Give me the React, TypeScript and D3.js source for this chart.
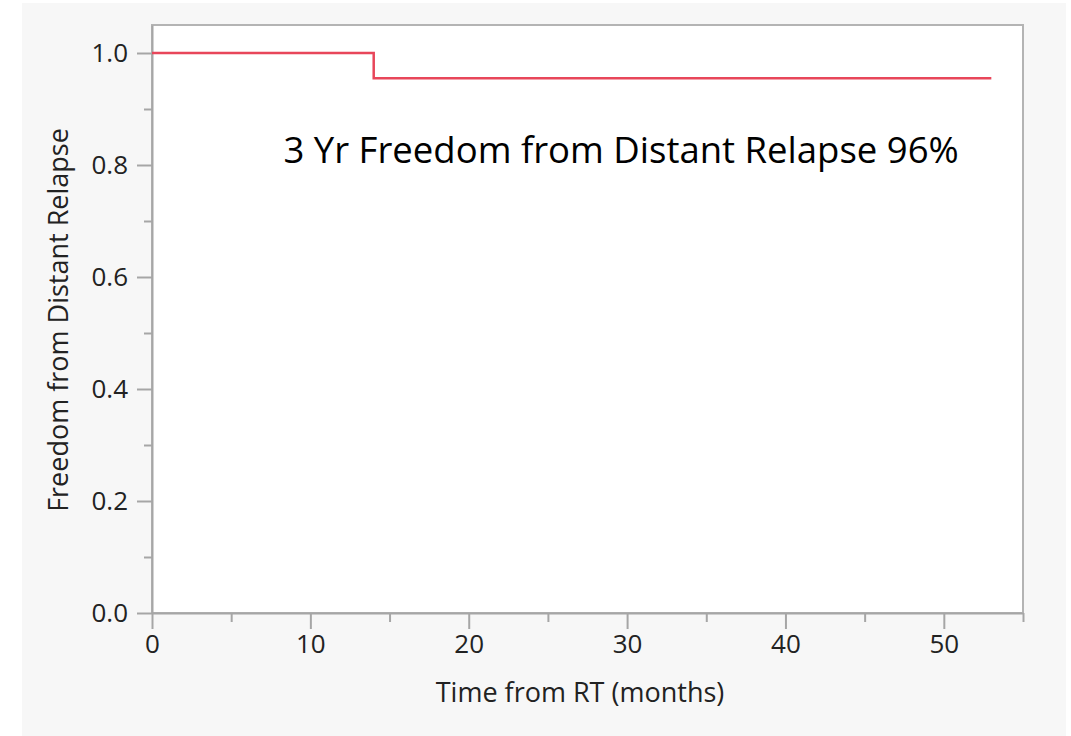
import { useEffect, useRef } from 'react';
import * as d3 from 'd3';

// Kaplan-Meier step points: [time (months), survival]
const timePoints = [0, 14, 53];
const survival = [1.0, 0.955, 0.955];
const xMajorTicks = [0, 10, 20, 30, 40, 50];
const xMinorTicks = [5, 15, 25, 35, 45, 55];
const yMajorTicks = [0, 0.2, 0.4, 0.6, 0.8, 1.0];
const yMinorTicks = [0.1, 0.3, 0.5, 0.7, 0.9];
const annotation = '3 Yr Freedom from Distant Relapse 96%';

export default function App() {
  const ref = useRef<SVGSVGElement | null>(null);

  useEffect(() => {
    if (!ref.current) return;
    const width = 1071;
    const height = 736;
    const margin = { top: 25, right: 48, bottom: 123, left: 152 };
    const innerWidth = width - margin.left - margin.right;
    const innerHeight = height - margin.top - margin.bottom;
    const font = '"Open Sans", "Noto Sans", sans-serif';
    const axisColor = '#a6a6a6';
    const labelSize = 26;

    const root = d3.select(ref.current);
    root.selectAll('*').remove();
    root.attr('width', width).attr('height', height);

    root.append('rect').attr('width', width).attr('height', height).attr('fill', '#ffffff');
    root
      .append('rect')
      .attr('x', 22)
      .attr('y', 3)
      .attr('width', 1044)
      .attr('height', height - 3)
      .attr('fill', '#f7f7f7');

    const svg = root.append('g').attr('transform', `translate(${margin.left},${margin.top})`);

    const x = d3.scaleLinear().domain([0, 55]).range([0, innerWidth]);
    const y = d3.scaleLinear().domain([0, 1.05]).range([innerHeight, 0]);

    svg
      .append('rect')
      .attr('width', innerWidth)
      .attr('height', innerHeight)
      .attr('fill', '#ffffff')
      .attr('stroke', '#b4b4b4')
      .attr('stroke-width', 2);

    // x axis
    const xAxis = svg.append('g').attr('transform', `translate(0,${innerHeight})`);
    xAxis
      .call(d3.axisBottom(x).tickValues(xMajorTicks).tickFormat(d3.format('d')).tickSize(16).tickSizeOuter(0).tickPadding(6))
      .call(g => g.select('.domain').attr('stroke', axisColor).attr('stroke-width', 2));
    xAxis.selectAll('.tick line').attr('stroke', axisColor).attr('stroke-width', 2);
    xAxis
      .selectAll('.tick text')
      .attr('fill', '#222')
      .attr('font-size', labelSize)
      .attr('font-family', font);
    svg
      .append('g')
      .attr('transform', `translate(0,${innerHeight})`)
      .call(d3.axisBottom(x).tickValues(xMinorTicks).tickFormat(() => '').tickSize(9).tickSizeOuter(0))
      .call(g => g.select('.domain').remove())
      .selectAll('.tick line')
      .attr('stroke', axisColor)
      .attr('stroke-width', 2);

    // y axis
    const yAxis = svg.append('g');
    yAxis
      .call(d3.axisLeft(y).tickValues(yMajorTicks).tickFormat(d3.format('.1f')).tickSize(15).tickSizeOuter(0).tickPadding(9))
      .call(g => g.select('.domain').attr('stroke', axisColor).attr('stroke-width', 2));
    yAxis.selectAll('.tick line').attr('stroke', axisColor).attr('stroke-width', 2);
    yAxis
      .selectAll('.tick text')
      .attr('fill', '#222')
      .attr('font-size', labelSize)
      .attr('font-family', font);
    svg
      .append('g')
      .call(d3.axisLeft(y).tickValues(yMinorTicks).tickFormat(() => '').tickSize(8).tickSizeOuter(0))
      .call(g => g.select('.domain').remove())
      .selectAll('.tick line')
      .attr('stroke', axisColor)
      .attr('stroke-width', 2);

    // step curve
    const data = timePoints.map((t, i) => [t, survival[i]] as [number, number]);
    const line = d3
      .line<[number, number]>()
      .x(d => x(d[0]))
      .y(d => y(d[1]))
      .curve(d3.curveStepAfter);
    svg
      .append('path')
      .datum(data)
      .attr('fill', 'none')
      .attr('stroke', '#e8465a')
      .attr('stroke-width', 2.5)
      .attr('d', line);

    // annotation
    svg
      .append('text')
      .attr('x', x(8.3))
      .attr('y', y(0.8) - 2)
      .attr('font-family', font)
      .attr('font-size', 36.5)
      .attr('fill', '#000')
      .text(annotation);

    // axis titles
    root
      .append('text')
      .attr('x', 580)
      .attr('y', 702)
      .attr('text-anchor', 'middle')
      .attr('font-family', font)
      .attr('font-size', 27)
      .attr('fill', '#222')
      .text('Time from RT (months)');

    root
      .append('text')
      .attr('transform', 'translate(68,320) rotate(-90)')
      .attr('text-anchor', 'middle')
      .attr('font-family', font)
      .attr('font-size', 27)
      .attr('fill', '#222')
      .text('Freedom from Distant Relapse');
  }, []);

  return <svg ref={ref} style={{ position: 'absolute', left: 0, top: 0, display: 'block' }} />;
}
